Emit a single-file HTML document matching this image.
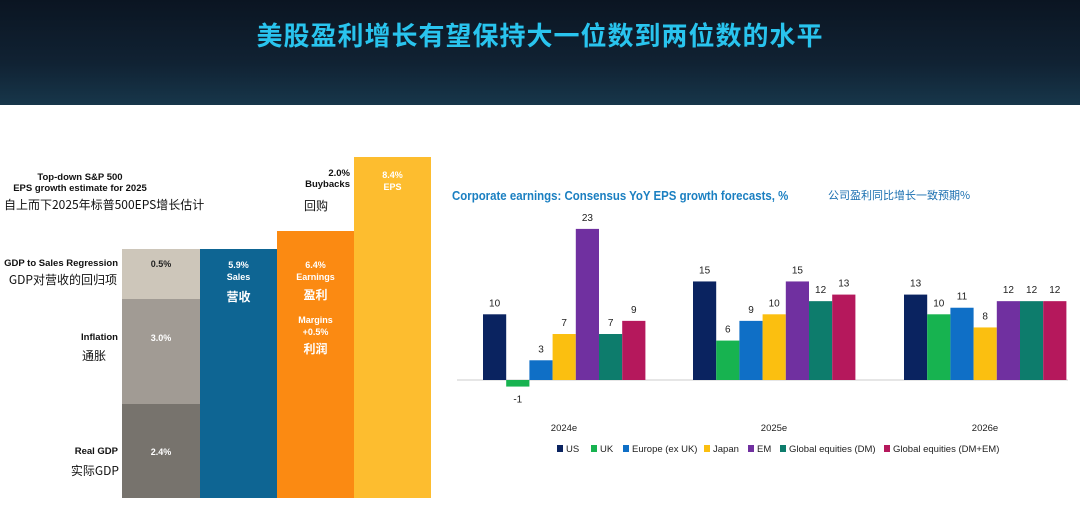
<!DOCTYPE html>
<html><head><meta charset="utf-8"><style>
body{margin:0;width:1080px;height:512px;background:#fff;position:relative;overflow:hidden;font-family:"Liberation Sans","Noto Sans CJK SC",sans-serif}
.hdr{position:absolute;left:0;top:0;width:1080px;height:105px;background:linear-gradient(180deg,#0b1522 0%,#102233 60%,#17364a 100%)}
.hdr h1{margin:0;position:absolute;top:16px;width:100%;text-align:center;color:#29c4ee;font-size:26px;font-weight:bold;font-family:"Noto Sans CJK SC",sans-serif;letter-spacing:1px}
.a{position:absolute}
.lbl{position:absolute;font-size:9.5px;font-weight:bold;color:#111;text-align:right}
.cn{font-family:"Noto Sans CJK SC",sans-serif;font-weight:normal;font-size:12px}
.w{color:#fff;text-align:center;font-size:9px;font-weight:bold;position:absolute}
</style></head><body>
<div class="hdr"><h1>美股盈利增长有望保持大一位数到两位数的水平</h1></div>

<div class="a" style="left:122px;top:249px;width:78px;height:50px;background:#cdc6ba"></div>
<div class="a" style="left:122px;top:299px;width:78px;height:105px;background:#a19b94"></div>
<div class="a" style="left:122px;top:404px;width:78px;height:94px;background:#77736d"></div>
<div class="a" style="left:200px;top:249px;width:77px;height:249px;background:#0e6593"></div>
<div class="a" style="left:277px;top:231px;width:77px;height:267px;background:#fb8a12"></div>
<div class="a" style="left:354px;top:157px;width:77px;height:341px;background:#fdbd2f"></div>

<div class="lbl" style="left:20px;top:172px;width:120px;text-align:center">Top-down S&amp;P 500</div>
<div class="lbl" style="left:5px;top:183px;width:150px;text-align:center">EPS growth estimate for 2025</div>
<div class="lbl cn" style="left:4px;top:196px;text-align:left">自上而下2025年标普500EPS增长估计</div>
<div class="lbl" style="left:0;top:258px;width:118px">GDP to Sales Regression</div>
<div class="lbl cn" style="left:0;top:271px;width:117px">GDP对营收的回归项</div>
<div class="lbl" style="left:0;top:332px;width:118px">Inflation</div>
<div class="lbl cn" style="left:0;top:347px;width:106px">通胀</div>
<div class="lbl" style="left:0;top:446px;width:118px">Real GDP</div>
<div class="lbl cn" style="left:0;top:462px;width:119px">实际GDP</div>
<div class="lbl" style="left:290px;top:168px;width:60px">2.0%<br>Buybacks</div>
<div class="lbl cn" style="left:304px;top:197px;text-align:left">回购</div>

<div class="w" style="left:122px;top:259px;width:78px;color:#222">0.5%</div>
<div class="w" style="left:122px;top:333px;width:78px">3.0%</div>
<div class="w" style="left:122px;top:447px;width:78px">2.4%</div>
<div class="w" style="left:200px;top:259px;width:77px;line-height:12px">5.9%<br>Sales</div>
<div class="w cn" style="left:200px;top:288px;width:77px;font-size:12px">营收</div>
<div class="w" style="left:277px;top:259px;width:77px;line-height:12px">6.4%<br>Earnings</div>
<div class="w cn" style="left:277px;top:286px;width:77px;font-size:12px">盈利</div>
<div class="w" style="left:277px;top:314px;width:77px;line-height:12px">Margins<br>+0.5%</div>
<div class="w cn" style="left:277px;top:340px;width:77px;font-size:12px">利润</div>
<div class="w" style="left:354px;top:169px;width:77px;line-height:12px">8.4%<br>EPS</div>

<div class="a" style="left:452px;top:188px;font-size:13px;font-weight:bold;color:#1a7fc1;transform:scaleX(0.88);transform-origin:left top;white-space:nowrap">Corporate earnings: Consensus YoY EPS growth forecasts, %</div>
<div class="a cn" style="left:828px;top:187px;font-size:11px;color:#1a6fb0;font-family:'Noto Sans CJK SC',sans-serif">公司盈利同比增长一致预期%</div>
<svg class="a" style="left:0;top:0" width="1080" height="512">
<line x1="457" y1="380" x2="1068" y2="380" stroke="#ccc" stroke-width="1"/>
<g font-family="Liberation Sans, sans-serif" font-size="10" fill="#222" text-anchor="middle" id="g"></g>
</svg>
<script>
var cols=["#0a2360","#17b350","#0f6fc6","#fbbf10","#7030a0","#0d7c6c","#b5185c"];
var data=[[10,-1,3,7,23,7,9],[15,6,9,10,15,12,13],[13,10,11,8,12,12,12]];
var starts=[483,693,904],s="",u=6.57;
data.forEach(function(d,gi){d.forEach(function(v,i){var x=starts[gi]+i*23.2,h=Math.abs(v)*u,y=v>=0?380-h:380;
s+='<rect x="'+x+'" y="'+y+'" width="23.2" height="'+h+'" fill="'+cols[i]+'"/>';
var ty=v>=0?y-8:y+h+16;s+='<text x="'+(x+11.6)+'" y="'+ty+'">'+v+'</text>';});
s+='<text x="'+(starts[gi]+81)+'" y="431" font-size="9.5">'+["2024e","2025e","2026e"][gi]+'</text>';});
var leg=[["US",557],["UK",591],["Europe (ex UK)",623],["Japan",704],["EM",748],["Global equities (DM)",780],["Global equities (DM+EM)",884]];
leg.forEach(function(l,i){s+='<rect x="'+l[1]+'" y="445" width="6" height="7" fill="'+cols[i]+'"/><text x="'+(l[1]+9)+'" y="452" font-size="9.5" text-anchor="start">'+l[0]+'</text>';});
document.getElementById("g").innerHTML=s;
</script>
</body></html>
